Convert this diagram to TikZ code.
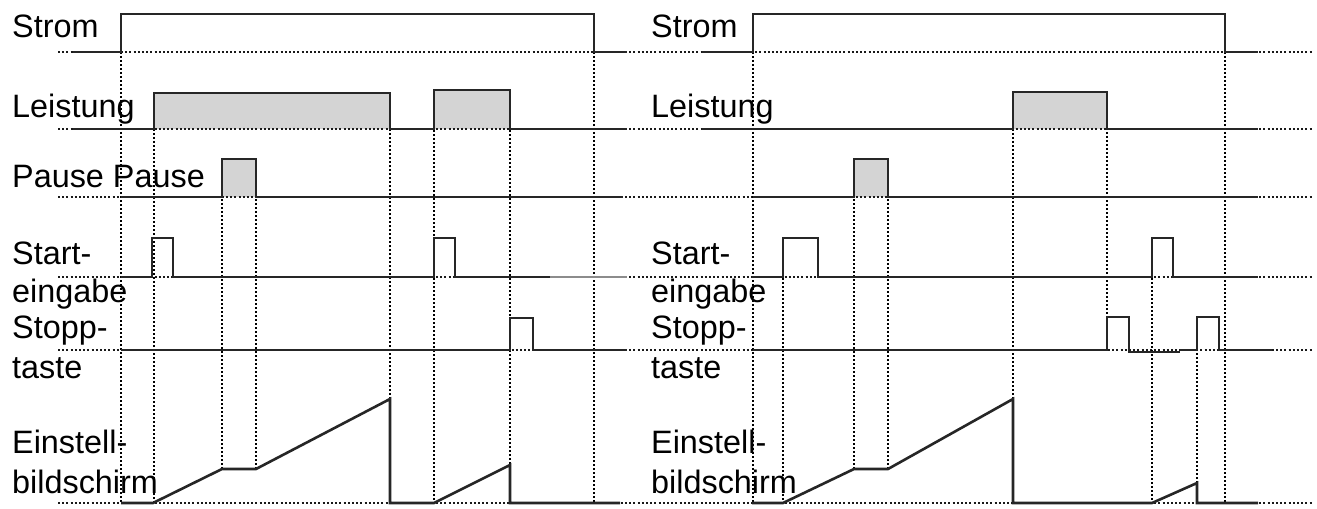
\documentclass[tikz,border=0pt]{standalone}
\usepackage{fontspec}
\setmainfont{Liberation Sans}
\begin{document}
\begin{tikzpicture}[x=1bp,y=-1bp,
  sig/.style={line width=2.6bp,black!85,line join=miter},
  vdot/.style={line width=2.6bp,black,dash pattern=on 2bp off 2bp},
  hdot/.style={line width=2.4bp,black!90,dash pattern=on 2bp off 2.2bp},
  gfill/.style={fill=black!17},
  lbl/.style={anchor=base west,inner sep=0pt,font=\fontsize{32.5}{32.5}\selectfont}]
\useasboundingbox (0,0) rectangle (1317,509);
\fill[white] (0,0) rectangle (1317,509);

% gray fills
\fill[gfill] (154,129) rectangle (390,93);
\fill[gfill] (434,129) rectangle (510,90);
\fill[gfill] (222,197) rectangle (256,159);
\fill[gfill] (1013,129) rectangle (1107,92);
\fill[gfill] (854,197) rectangle (888,159);

% horizontal dotted baselines
\foreach \yy in {52,129,197,277,350,503}
  \draw[hdot] (58,\yy) -- (1313,\yy);

% vertical dotted lines, left
\draw[vdot] (121,20) -- (121,503);
\draw[vdot] (154,93) -- (154,503);
\draw[vdot] (222,159) -- (222,469);
\draw[vdot] (256,159) -- (256,469);
\draw[vdot] (390,129) -- (390,503);
\draw[vdot] (434,90) -- (434,503);
\draw[vdot] (510,90) -- (510,503);
\draw[vdot] (594,20) -- (594,503);
% vertical dotted lines, right
\draw[vdot] (753,20) -- (753,503);
\draw[vdot] (783,238) -- (783,503);
\draw[vdot] (854,159) -- (854,469);
\draw[vdot] (888,159) -- (888,469);
\draw[vdot] (1013,129) -- (1013,503);
\draw[vdot] (1107,92) -- (1107,317);
\draw[vdot] (1152,238) -- (1152,503);
\draw[vdot] (1197,317) -- (1197,483);
\draw[vdot] (1225,20) -- (1225,503);

% left signals
\draw[sig] (73,52) -- (121,52) -- (121,14) -- (594,14) -- (594,52) -- (627,52);
\draw[sig] (73,129) -- (154,129) -- (154,93) -- (390,93) -- (390,129) -- (434,129) -- (434,90) -- (510,90) -- (510,129) -- (627,129);
\draw[sig] (121,197) -- (222,197) -- (222,159) -- (256,159) -- (256,197) -- (623,197);
\draw[sig] (121,277) -- (152,277) -- (152,238) -- (173,238) -- (173,277) -- (434,277) -- (434,238) -- (455,238) -- (455,277) -- (550,277);
\draw[sig,black!45] (550,277) -- (627,277);
\draw[sig] (121,350) -- (510,350) -- (510,318) -- (533,318) -- (533,350) -- (627,350);
\draw[sig] (121,503) -- (153,503) -- (222,469) -- (256,469) -- (390,399) -- (390,503) -- (434,503) -- (510,465) -- (510,503) -- (620,503);

% right signals
\draw[sig] (702,52) -- (753,52) -- (753,14) -- (1225,14) -- (1225,52) -- (1258,52);
\draw[sig] (702,129) -- (1013,129) -- (1013,92) -- (1107,92) -- (1107,129) -- (1258,129);
\draw[sig] (753,197) -- (854,197) -- (854,159) -- (888,159) -- (888,197) -- (1258,197);
\draw[sig] (752,277) -- (783,277) -- (783,238) -- (818,238) -- (818,277) -- (1152,277) -- (1152,238) -- (1173,238) -- (1173,277) -- (1258,277);
\draw[sig] (753,350) -- (1107,350) -- (1107,317) -- (1129,317) -- (1129,352) -- (1180,352);
\draw[sig] (1180,350) -- (1197,350) -- (1197,317) -- (1219,317) -- (1219,350) -- (1272,350);
\draw[sig] (752,503) -- (783,503) -- (854,469) -- (888,469) -- (1013,399) -- (1013,503) -- (1152,503) -- (1197,483) -- (1197,503) -- (1258,503);

% labels left
\node[lbl] (lstrom) at (12,38) {Strom};
\node[lbl] (lleist) at (12,118) {Leistung};
\node[lbl] (lpause) at (12,188) {Pause Pause};
\node[lbl] (lstart1) at (12,264) {Start-};
\node[lbl] (lstart2) at (12,302) {eingabe};
\node[lbl] (lstopp1) at (12,338) {Stopp-};
\node[lbl] (lstopp2) at (12,378) {taste};
\node[lbl] (leins1) at (12,453) {Einstell-};
\node[lbl] (leins2) at (12,493) {bildschirm};
% labels right
\node[lbl] (rstrom) at (651,38) {Strom};
\node[lbl] (rleist) at (651,118) {Leistung};
\node[lbl] (rstart1) at (651,264) {Start-};
\node[lbl] (rstart2) at (651,302) {eingabe};
\node[lbl] (rstopp1) at (651,338) {Stopp-};
\node[lbl] (rstopp2) at (651,378) {taste};
\node[lbl] (reins1) at (651,453) {Einstell-};
\node[lbl] (reins2) at (651,493) {bildschirm};
\end{tikzpicture}
\end{document}
